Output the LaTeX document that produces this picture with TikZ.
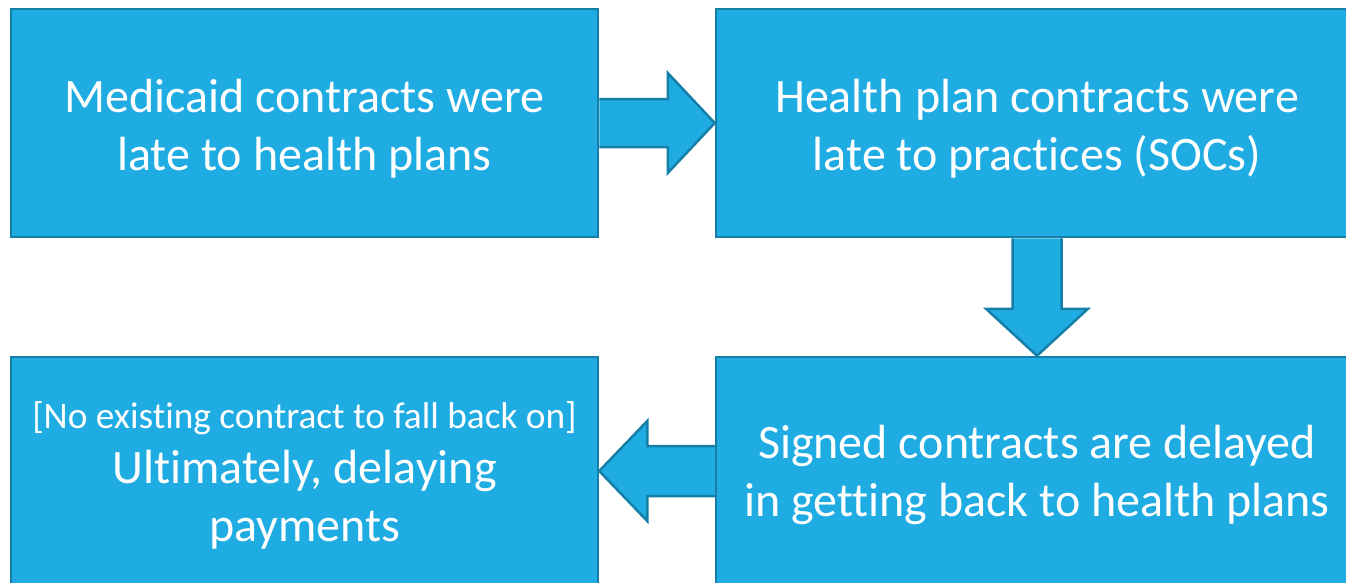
\documentclass[tikz,border=0pt]{standalone}
\usepackage{fontspec}
\setmainfont{Carlito}[Ligatures=NoCommon]
\usetikzlibrary{calc}
\definecolor{boxfill}{HTML}{1FACE2}
\definecolor{boxline}{HTML}{167FA8}
\tikzset{
  stepbox/.style={rectangle, fill=boxfill, draw=boxline, line width=2.5pt, inner sep=0pt},
  steptext/.style={text=white, align=center, inner sep=0pt, yshift=-6pt,
    font=\fontsize{48}{58}\selectfont},
  blockarrow/.style={fill=boxfill, draw=boxline, line width=2.5pt, line join=miter},
}
\begin{document}
\begin{tikzpicture}[x=1pt,y=-1pt]
\useasboundingbox (0,0) rectangle (1346,582);
\clip (0,0) rectangle (1346,582);
\fill[white] (0,0) rectangle (1346,582);
\node[stepbox, minimum width=587pt, minimum height=228pt] (a) at (304.5,123) {};
\node[steptext] (ta) at (a.center) {Medicaid contracts were\\late to health plans};
\node[stepbox, minimum width=642pt, minimum height=228pt] (b) at (1037,123) {};
\node[steptext] (tb) at (b.center) {Health plan contracts were\\late to practices (SOCs)};
\node[stepbox, minimum width=642pt, minimum height=228pt] (c) at (1037,471) {};
\node[steptext, yshift=2pt] (tc) at (c.center) {Signed contracts are delayed\\in getting back to health plans};
\node[stepbox, minimum width=587pt, minimum height=228pt] (d) at (304.5,471) {};
\node[steptext, yshift=2pt] (td) at (d.center)
  {{\fontsize{37.3}{44}\selectfont [No existing contract to fall back on]}\\[-3pt]Ultimately, delaying\\payments};
% right arrow a -> b
\draw[blockarrow] ($(a.east)+(0,-24)$) -- ($(b.west)+(-47,-24)$) -- ($(b.west)+(-47,-50)$)
  -- (b.west) -- ($(b.west)+(-47,50)$) -- ($(b.west)+(-47,24)$) -- ($(a.east)+(0,24)$);
% down arrow b -> c
\draw[blockarrow] ($(b.south)+(-24.5,0)$) -- ($(c.north)+(-24.5,-47)$) -- ($(c.north)+(-51,-47)$)
  -- (c.north) -- ($(c.north)+(51,-47)$) -- ($(c.north)+(24.5,-47)$) -- ($(b.south)+(24.5,0)$);
% left arrow c -> d
\draw[blockarrow] ($(c.west)+(0,-25)$) -- ($(d.east)+(48,-25)$) -- ($(d.east)+(48,-50)$)
  -- (d.east) -- ($(d.east)+(48,50)$) -- ($(d.east)+(48,25)$) -- ($(c.west)+(0,25)$);
\end{tikzpicture}
\end{document}
